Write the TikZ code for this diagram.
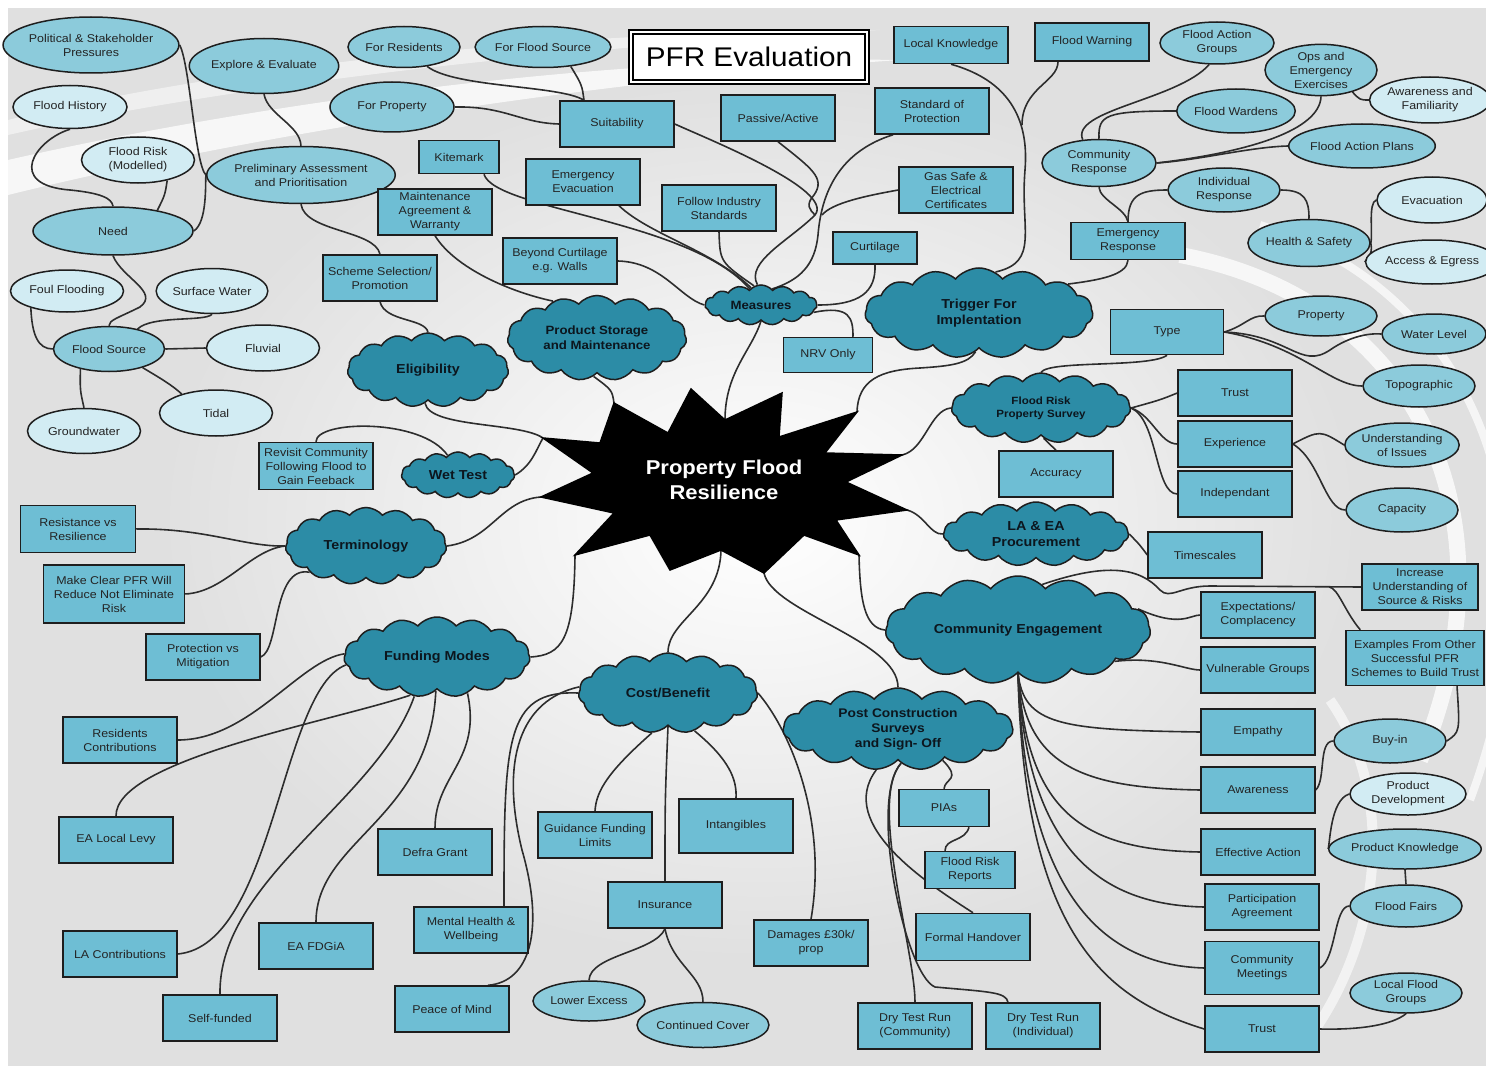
\documentclass[tikz,border=0pt]{standalone}
\usepackage{fontspec}
\setmainfont{Liberation Sans}[FakeStretch=1.1]
\usetikzlibrary{shapes.geometric,shapes.symbols}
\definecolor{rectc}{RGB}{110,190,212}
\definecolor{ellm}{RGB}{140,203,219}
\definecolor{elll}{RGB}{210,236,243}
\definecolor{cloudc}{RGB}{44,140,166}
\definecolor{bord}{RGB}{30,30,30}
\definecolor{linec}{RGB}{45,45,45}
\definecolor{bgc}{RGB}{224,224,224}
\definecolor{txt}{RGB}{35,35,35}
\definecolor{cltxt}{RGB}{12,22,30}
\newcommand{\bxfont}{\fontsize{11.3}{14}\selectfont}
\newcommand{\clfont}{\fontsize{13}{15.5}\selectfont\bfseries}
\pgfdeclarelayer{back}
\pgfdeclarelayer{mid}
\pgfsetlayers{back,mid,main}
\begin{document}
\begin{tikzpicture}[x=1pt,y=-1pt,
 bx/.style={rectangle, draw=bord, line width=1.5pt, fill=rectc, minimum width=114pt, minimum height=46pt, inner sep=1pt, align=center, font=\bxfont, text=txt},
 em/.style={ellipse, draw=bord, line width=1.5pt, fill=ellm, minimum width=112pt, minimum height=44pt, inner sep=0pt, align=center, font=\bxfont, text=txt},
 el/.style={em, fill=elll},
 cl/.style={cloud, cloud puffs=15, cloud puff arc=100, cloud ignores aspect, draw=bord, line width=1.5pt, fill=cloudc, inner sep=0pt, align=center, font=\clfont, text=cltxt},
 con/.style={draw=linec, line width=1.6pt}]
\useasboundingbox (0,0) rectangle (1486,1070);
% ---------- background ----------
\begin{pgfonlayer}{back}
\fill[white] (0,0) rectangle (1486,1070);
\fill[bgc] (8,8) rectangle (1486,1066);
\shade[inner color=white, outer color=bgc] (760,520) ellipse (600 and 440);
\fill[white, opacity=0.75] (8,160) .. controls (250,105) and (600,55) .. (900,60) .. controls (600,80) and (250,135) .. (8,195) -- cycle;
\fill[white, opacity=0.5] (8,120) .. controls (250,60) and (600,30) .. (880,30) .. controls (600,45) and (250,80) .. (8,135) -- cycle;
\draw[white, line width=16pt, opacity=.75] (1180,255) .. controls (1420,300) and (1520,520) .. (1420,760);
\draw[white, line width=8pt, opacity=.7] (1260,225) .. controls (1500,300) and (1560,560) .. (1470,800);
\draw[white, line width=10pt, opacity=.6] (1330,700) .. controls (1400,800) and (1380,950) .. (1300,1050);
\end{pgfonlayer}
% ---------- title ----------
\node[draw=black, line width=2.2pt, double=white, double distance=2pt, fill=white, minimum width=236pt, minimum height=50pt, font=\fontsize{27}{30}\selectfont] (title) at (749,57) {PFR Evaluation};
% ---------- central star ----------
\coordinate (p1) at (614,403); \coordinate (i1) at (668,433);
\coordinate (p2) at (691,389); \coordinate (i2) at (725,420);
\coordinate (p3) at (782,393); \coordinate (i3) at (779,437);
\coordinate (p4) at (857,412); \coordinate (i4) at (825,453);
\coordinate (p5) at (902,455); \coordinate (i5) at (846,482);
\coordinate (p6) at (907,510); \coordinate (i6) at (836,520);
\coordinate (p7) at (859,555); \coordinate (i7) at (804,535);
\coordinate (p8) at (764,573); \coordinate (i8) at (721,550);
\coordinate (p9) at (670,570); \coordinate (i9) at (650,535);
\coordinate (p10) at (575,555); \coordinate (i10) at (614,513);
\coordinate (p11) at (541,497); \coordinate (i11) at (593,473);
\coordinate (p12) at (543,438); \coordinate (i12) at (600,443);
\filldraw[black, line width=1.5pt, line join=miter] (p1) -- (i1) -- (p2) -- (i2) -- (p3) -- (i3) -- (p4) -- (i4) -- (p5) -- (i5) -- (p6) -- (i6) -- (p7) -- (i7) -- (p8) -- (i8) -- (p9) -- (i9) -- (p10) -- (i10) -- (p11) -- (i11) -- (p12) -- (i12) -- cycle;
\node[font=\fontsize{20}{25}\selectfont\bfseries, text=white, align=center] (pfr) at (724,480) {Property Flood\\Resilience};
% ---------- top-left ----------
\node[em, minimum width=144pt, minimum height=56pt] (pol) at (91,45) {Political \& Stakeholder\\Pressures};
\node[em, minimum width=139pt, minimum height=55pt] (expl) at (264,66) {Explore \& Evaluate};
\node[el, minimum width=114pt, minimum height=43pt] (fhist) at (70,107) {Flood History};
\node[el, minimum width=113pt, minimum height=46pt] (frisk) at (138,160) {Flood Risk\\(Modelled)};
\node[em, minimum width=157pt, minimum height=57pt] (prel) at (301,175) {Preliminary Assessment\\and Prioritisation};
\node[em, minimum width=160pt, minimum height=48pt] (need) at (113,231) {Need};
\node[el, minimum width=113pt, minimum height=42pt] (foul) at (67,291) {Foul Flooding};
\node[el, minimum width=111pt, minimum height=45pt] (surf) at (212,291) {Surface Water};
\node[em, minimum width=111pt, minimum height=45pt] (fsrc) at (109,349) {Flood Source};
\node[el, minimum width=113pt, minimum height=46pt] (fluv) at (263,348) {Fluvial};
\node[el, minimum width=113pt, minimum height=46pt] (tidal) at (216,413) {Tidal};
\node[el, minimum width=113pt, minimum height=45pt] (gw) at (84,431) {Groundwater};
% ---------- top-middle ----------
\node[em, minimum width=112pt, minimum height=41pt] (fres) at (404,47) {For Residents};
\node[em, minimum width=113pt, minimum height=41pt] (ffs) at (543,47) {For Flood Source};
\node[em, minimum width=124pt, minimum height=50pt] (fprop) at (392,107) {For Property};
\node[bx] (suit) at (617,124) {Suitability};
\node[bx] (pass) at (778,118) {Passive/Active};
\node[bx, minimum width=80pt, minimum height=33pt] (kite) at (459,157) {Kitemark};
\node[bx] (eevac) at (583,182) {Emergency\\Evacuation};
\node[bx] (fis) at (719,208) {Follow Industry\\Standards};
\node[bx] (maint) at (435,212) {Maintenance\\Agreement \&\\Warranty};
\node[bx] (beyond) at (560,261) {Beyond Curtilage\\e.g. Walls};
\node[bx] (scheme) at (380,278) {Scheme Selection/\\Promotion};
\node[bx, minimum width=84pt, minimum height=32pt] (curt) at (875,248) {Curtilage};
\node[bx, minimum width=89pt, minimum height=35pt] (nrv) at (828,355) {NRV Only};
\node[bx] (sop) at (932,111) {Standard of\\Protection};
\node[bx, minimum height=37pt] (lk) at (951,45) {Local Knowledge};
\node[bx, minimum height=38pt] (fw) at (1092,42) {Flood Warning};
\node[bx] (gas) at (956,190) {Gas Safe \&\\Electrical\\Certificates};
\node[cl, minimum width=112pt, minimum height=40pt, font=\fontsize{12}{14}\selectfont\bfseries] (meas) at (761,305) {Measures};
\node[cl, minimum width=179pt, minimum height=85pt, font=\fontsize{12}{15}\selectfont\bfseries] (ps) at (597,338) {Product Storage\\and Maintenance};
\node[cl, minimum width=161pt, minimum height=74pt] (elig) at (428,370) {Eligibility};
\node[cl, minimum width=228pt, minimum height=90pt] (trig) at (979,313) {Trigger For\\Implentation};
% ---------- top-right ----------
\node[em, minimum width=114pt, minimum height=42pt] (fag) at (1217,43) {Flood Action\\Groups};
\node[em, minimum width=112pt, minimum height=46pt] (ops) at (1321,70) {Ops and\\Emergency\\Exercises};
\node[el, minimum width=111pt, minimum height=46pt] (aaf) at (1430,100) {Awareness and\\Familiarity};
\node[em] (fwar) at (1236,111) {Flood Wardens};
\node[em, minimum width=114pt, minimum height=47pt] (cr) at (1099,163) {Community\\Response};
\node[em, minimum width=114pt] (fap) at (1362,146) {Flood Action Plans};
\node[em] (ir) at (1224,190) {Individual\\Response};
\node[bx, minimum height=37pt] (er) at (1128,241) {Emergency\\Response};
\node[em, minimum height=47pt] (hs) at (1309,243) {Health \& Safety};
\node[el, minimum width=110pt, minimum height=46pt] (evac) at (1432,200) {Evacuation};
\node[el, minimum width=110pt, minimum height=44pt] (ae) at (1432,262) {Access \& Egress};
% ---------- right-middle ----------
\node[bx, minimum width=113pt, minimum height=45pt] (type) at (1167,332) {Type};
\node[em, minimum height=40pt] (prop) at (1321,316) {Property};
\node[em, minimum width=104pt, minimum height=40pt] (wl) at (1434,334) {Water Level};
\node[em, minimum height=42pt] (topo) at (1419,386) {Topographic};
\node[cl, minimum width=179pt, minimum height=70pt, font=\fontsize{10.5}{13}\selectfont\bfseries] (frps) at (1041,408) {Flood Risk\\Property Survey};
\node[bx] (trust) at (1235,393) {Trust};
\node[bx] (exp) at (1235,444) {Experience};
\node[bx] (ind) at (1235,494) {Independant};
\node[bx] (acc) at (1056,474) {Accuracy};
\node[em] (uoi) at (1402,445) {Understanding\\of Issues};
\node[em] (cap) at (1402,510) {Capacity};
\node[cl, minimum width=185pt, minimum height=64pt] (laea) at (1036,534) {LA \& EA\\Procurement};
\node[bx] (ts) at (1205,555) {Timescales};
% ---------- lower-right ----------
\node[cl, minimum width=265pt, minimum height=108pt] (ce) at (1018,630) {Community Engagement};
\node[bx, minimum width=116pt] (ius) at (1420,587) {Increase\\Understanding of\\Source \& Risks};
\node[bx] (expc) at (1258,615) {Expectations/\\Complacency};
\node[bx, minimum width=138pt, minimum height=55pt] (exam) at (1415,658) {Examples From Other\\Successful PFR\\Schemes to Build Trust};
\node[bx] (vul) at (1258,670) {Vulnerable Groups};
\node[bx] (emp) at (1258,732) {Empathy};
\node[em] (buy) at (1390,741) {Buy-in};
\node[bx] (aw) at (1258,790) {Awareness};
\node[el, minimum width=116pt, minimum height=42pt] (pdev) at (1408,794) {Product\\Development};
\node[em, minimum width=116pt, minimum height=40pt] (pkn) at (1405,849) {Product Knowledge};
\node[bx] (eff) at (1258,852) {Effective Action};
\node[bx] (part) at (1262,907) {Participation\\Agreement};
\node[em, minimum height=42pt] (ff) at (1406,906) {Flood Fairs};
\node[bx, minimum height=53pt] (cm) at (1262,968) {Community\\Meetings};
\node[em, minimum height=40pt] (lfg) at (1406,993) {Local Flood\\Groups};
\node[bx] (trust2) at (1262,1029) {Trust};
% ---------- centre-left ----------
\node[cl, minimum width=113pt, minimum height=46pt] (wet) at (458,475) {Wet Test};
\node[bx, minimum height=47pt] (rev) at (316,466) {Revisit Community\\Following Flood to\\Gain Feeback};
\node[cl, minimum width=161pt, minimum height=77pt] (term) at (366,546) {Terminology};
\node[bx, minimum width=115pt, minimum height=47pt] (resv) at (78,529) {Resistance vs\\Resilience};
\node[bx, minimum width=141pt, minimum height=58pt] (mkcl) at (114,594) {Make Clear PFR Will\\Reduce Not Eliminate\\Risk};
\node[bx] (prot) at (203,657) {Protection vs\\Mitigation};
\node[cl, minimum width=186pt, minimum height=80pt] (fm) at (437,657) {Funding Modes};
\node[bx] (res) at (120,740) {Residents\\Contributions};
\node[bx] (eal) at (116,840) {EA Local Levy};
\node[bx] (defra) at (435,852) {Defra Grant};
\node[bx] (mh) at (471,930) {Mental Health \&\\Wellbeing};
\node[bx] (eafd) at (316,946) {EA FDGiA};
\node[bx] (lac) at (120,954) {LA Contributions};
\node[bx] (self) at (220,1018) {Self-funded};
\node[bx] (pom) at (452,1009) {Peace of Mind};
% ---------- bottom-middle ----------
\node[cl, minimum width=179pt, minimum height=80pt] (cb) at (668,693) {Cost/Benefit};
\node[bx] (gfl) at (595,835) {Guidance Funding\\Limits};
\node[bx, minimum height=54pt] (intg) at (736,826) {Intangibles};
\node[bx] (ins) at (665,905) {Insurance};
\node[bx] (dmg) at (811,943) {Damages £30k/\\prop};
\node[em, minimum height=40pt] (lex) at (589,1001) {Lower Excess};
\node[em, minimum height=45pt] (ccov) at (703,1025) {Continued Cover};
\node[cl, minimum width=230pt, minimum height=82pt, font=\fontsize{12.5}{15}\selectfont\bfseries] (pcs) at (898,729) {Post Construction\\Surveys\\and Sign- Off};
\node[bx, minimum width=90pt, minimum height=37pt] (pias) at (944,808) {PIAs};
\node[bx, minimum width=90pt, minimum height=37pt] (frr) at (970,870) {Flood Risk\\Reports};
\node[bx, minimum height=47pt] (fho) at (973,937) {Formal Handover};
\node[bx] (dtrc) at (915,1026) {Dry Test Run\\(Community)};
\node[bx] (dtri) at (1043,1026) {Dry Test Run\\(Individual)};
% ---------- connectors ----------
\begin{pgfonlayer}{mid}
\draw[con] (pol.east) .. controls (190,65) and (195,165) .. (prel.west);
\draw[con] (expl.south) .. controls (268,115) and (300,125) .. (prel.north);
\draw[con] (fhist.south) .. controls (35,140) and (5,185) .. (70,190) .. controls (100,193) and (112,198) .. (need.north);
\draw[con] (frisk.-35) .. controls (165,195) .. (need.25);
\draw[con] (need.east) .. controls (208,222) and (205,180) .. (prel.west);
\draw[con] (prel.south) .. controls (305,232) and (375,230) .. (scheme.north);
\draw[con] (need.south) .. controls (122,278) and (160,292) .. (140,307) .. controls (118,318) and (109,320) .. (fsrc.north);
\draw[con] (foul.-155) .. controls (32,335) and (38,349) .. (fsrc.west);
\draw[con] (surf.south) .. controls (205,322) and (152,315) .. (fsrc.35);
\draw[con] (fsrc.east) -- (fluv.west);
\draw[con] (fsrc.-29) .. controls (160,378) and (172,385) .. (tidal.151);
\draw[con] (fsrc.-145) .. controls (80,390) .. (gw.north);
\draw[con] (scheme.south) .. controls (385,322) and (425,318) .. (elig.north);
\draw[con] (fres.-40) .. controls (455,88) and (560,85) .. ([xshift=-33pt]suit.north);
\draw[con] (ffs.-35) .. controls (582,85) .. ([xshift=-33pt]suit.north);
\draw[con] (fprop.east) .. controls (505,106) and (520,123) .. (suit.west);
\draw[con] (suit.east) .. controls (710,140) and (835,190) .. (815,215) .. controls (790,240) and (745,262) .. (meas.100);
\draw[con] (pass.south) .. controls (811,168) and (826,178) .. (814,195) .. controls (805,205) and (810,210) .. (815,215);
\draw[con] ([xshift=-39pt]sop.south) .. controls (845,150) and (822,185) .. (818,235) .. controls (815,265) and (800,280) .. (meas.55);
\draw[con] (gas.west) .. controls (865,196) and (832,203) .. (822,215);
\draw[con] ([xshift=25pt]kite.south) .. controls (495,210) and (690,220) .. (meas.125);
\draw[con] ([xshift=36pt]eevac.south) .. controls (650,235) and (712,250) .. (meas.120);
\draw[con] (fis.south) .. controls (720,262) .. (meas.110);
\draw[con] (beyond.east) .. controls (662,262) and (680,298) .. (meas.west);
\draw[con] (maint.south) .. controls (455,268) and (510,292) .. (ps.140);
\draw[con] (curt.south) .. controls (876,292) and (860,305) .. (meas.east);
\draw[con] (meas.-8) .. controls (850,305) and (853,318) .. ([xshift=25pt]nrv.north);
\draw[con] (meas.south) .. controls (752,350) and (725,372) .. (i2);
\draw[con] (ps.-95) .. controls (612,390) .. (p1);
\draw[con] (elig.-95) .. controls (430,428) and (520,422) .. (p12);
\draw[con] (wet.east) .. controls (532,465) and (536,450) .. (p12);
\draw[con] (rev.north) .. controls (316,420) and (422,418) .. (wet.118);
\draw[con] (term.east) .. controls (492,540) and (500,500) .. (p11);
\draw[con] (resv.east) .. controls (205,528) and (245,547) .. (term.west);
\draw[con] (mkcl.east) .. controls (225,592) and (250,550) .. (term.west);
\draw[con] (prot.east) .. controls (280,650) and (272,565) .. (term.205);
\draw[con] (fm.east) .. controls (562,655) and (574,640) .. (p10);
\draw[con] (fm.178) .. controls (300,660) and (250,740) .. (res.east);
\draw[con] (fm.185) .. controls (280,690) and (275,945) .. (lac.east);
\draw[con] (fm.-125) .. controls (330,722) and (115,760) .. (eal.north);
\draw[con] (fm.-120) .. controls (378,800) and (218,880) .. (self.north);
\draw[con] (fm.-92) .. controls (430,820) and (316,840) .. (eafd.north);
\draw[con] (fm.-50) .. controls (482,760) and (435,775) .. (defra.north);
\draw[con] (cb.180) .. controls (505,690) and (504,740) .. ([xshift=33pt]mh.north);
\draw[con] (cb.176) .. controls (520,700) and (500,760) .. (522,850) .. controls (545,930) and (530,982) .. ([xshift=36pt]pom.north);
\draw[con] (cb.-112) .. controls (610,770) and (596,790) .. (gfl.north);
\draw[con] (cb.-90) .. controls (665,800) .. (ins.north);
\draw[con] (cb.-55) .. controls (730,760) and (737,780) .. (intg.north);
\draw[con] (cb.east) .. controls (790,730) and (828,820) .. (dmg.north);
\draw[con] (ins.south) .. controls (655,952) and (590,955) .. (lex.north);
\draw[con] (ins.south) .. controls (672,965) and (703,975) .. (ccov.north);
\draw[con] (pcs.-118) .. controls (835,825) and (930,885) .. (fho.north);
\draw[con] (pcs.-85) .. controls (868,800) and (915,950) .. (dtrc.north);
\draw[con] (pcs.-85) .. controls (868,800) and (905,975) .. (935,987) .. controls (990,992) and (1006,992) .. ([xshift=-35pt]dtri.north);
\draw[con] (pcs.-35) .. controls (962,780) and (945,778) .. (pias.north);
\draw[con] ([xshift=25pt]pias.south) .. controls (965,842) and (945,838) .. ([xshift=-25pt]frr.north);
\draw[con] (p8) .. controls (772,612) and (898,640) .. (pcs.north);
\draw[con] (i8) .. controls (720,605) and (668,620) .. (cb.north);
\draw[con] (p7) .. controls (860,602) and (865,628) .. (ce.west);
\draw[con] (p6) .. controls (925,515) and (930,535) .. (laea.west);
\draw[con] (p5) .. controls (925,450) and (930,410) .. (frps.west);
\draw[con] (p4) .. controls (858,380) and (880,370) .. (920,368) .. controls (950,366) and (968,364) .. (trig.-95);
\draw[con] (type.south) .. controls (1150,368) and (1050,360) .. (frps.north);
\draw[con] (lk.south) .. controls (1000,78) and (1030,110) .. (1025,170) .. controls (1020,230) and (1040,262) .. (trig.68);
\draw[con] ([xshift=-34pt]fw.south) .. controls (1058,82) and (1022,88) .. (1022,125);
\draw[con] (trig.18) .. controls (1100,280) and (1127,275) .. (er.south);
\draw[con] (er.north) .. controls (1125,208) and (1100,200) .. (cr.south);
\draw[con] (er.north) .. controls (1128,195) and (1140,190) .. (ir.west);
\draw[con] (ir.east) .. controls (1305,190) and (1309,200) .. (hs.north);
\draw[con] (hs.east) .. controls (1373,232) and (1368,203) .. (evac.west);
\draw[con] (hs.east) .. controls (1372,252) .. (ae.west);
\draw[con] (cr.125) .. controls (1070,110) and (1178,100) .. (fag.-110);
\draw[con] (cr.north) .. controls (1098,115) and (1105,111) .. (fwar.west);
\draw[con] (cr.east) .. controls (1200,160) and (1250,147) .. (fap.west);
\draw[con] (cr.east) .. controls (1250,152) and (1320,130) .. (ops.south);
\draw[con] (ops.-35) .. controls (1360,100) .. (aaf.west);
\draw[con] (type.east) .. controls (1245,326) and (1250,315) .. (prop.west);
\draw[con] (type.east) .. controls (1290,335) and (1300,370) .. (1330,350) .. controls (1350,336) and (1370,333) .. (wl.west);
\draw[con] (type.east) .. controls (1300,345) and (1330,386) .. (topo.west);
\draw[con] (frps.east) .. controls (1160,400) .. (trust.west);
\draw[con] (frps.east) .. controls (1152,415) and (1160,444) .. (exp.west);
\draw[con] (frps.east) .. controls (1158,420) and (1155,494) .. (ind.west);
\draw[con] (frps.-85) -- (acc.north);
\draw[con] (exp.east) .. controls (1320,430) .. (uoi.west);
\draw[con] (exp.east) .. controls (1320,460) and (1325,510) .. (cap.west);
\draw[con] (laea.east) .. controls (1140,545) .. (ts.west);
\draw[con] (ce.62) .. controls (1108,562) and (1140,568) .. (1160,590) .. controls (1170,600) and (1180,586) .. (1210,586) -- (ius.west);
\draw[con] ([xshift=-32pt]ius.west) .. controls (1338,588) and (1345,612) .. ([xshift=15pt]exam.north west);
\draw[con] (ce.10) .. controls (1180,628) and (1190,615) .. (expc.west);
\draw[con] (ce.-18) .. controls (1160,656) and (1185,670) .. (vul.west);
\draw[con] (ce.-90) .. controls (1024,725) and (1060,730) .. (emp.west);
\draw[con] (ce.-90) .. controls (1026,765) and (1080,788) .. (aw.west);
\draw[con] (ce.-90) .. controls (1027,810) and (1080,850) .. (eff.west);
\draw[con] (ce.-90) .. controls (1027,850) and (1100,905) .. (part.west);
\draw[con] (ce.-90) .. controls (1025,890) and (1100,965) .. (cm.west);
\draw[con] (ce.-90) .. controls (1024,940) and (1110,1000) .. (trust2.west);
\draw[con] ([xshift=42pt]exam.south) .. controls (1460,732) .. (buy.east);
\draw[con] (aw.east) .. controls (1326,780) and (1318,741) .. (buy.west);
\draw[con] (pdev.west) .. controls (1330,800) and (1330,845) .. (pkn.west);
\draw[con] (pkn.south) -- (ff.north);
\draw[con] (cm.east) .. controls (1336,960) and (1334,906) .. (ff.west);
\draw[con] (trust2.east) .. controls (1360,1030) and (1392,1025) .. (lfg.south);
\end{pgfonlayer}
\end{tikzpicture}
\end{document}
